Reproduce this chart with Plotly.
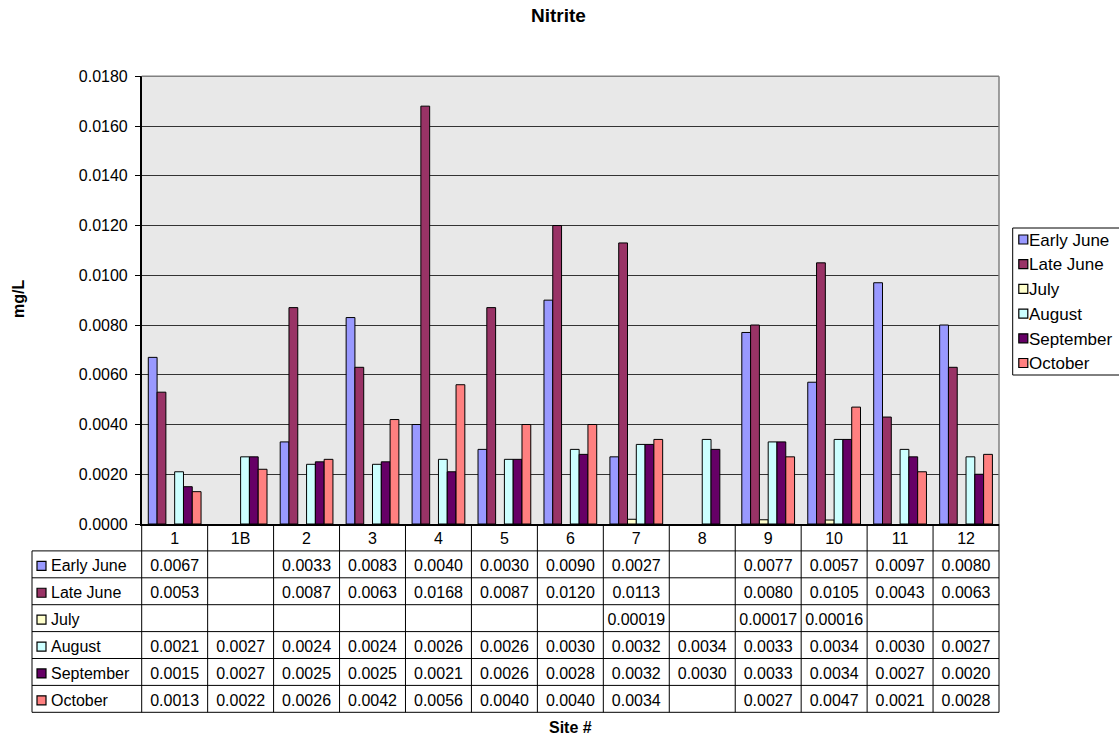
import plotly.graph_objects as go

# ---------------- data ----------------
sites = ["1", "1B", "2", "3", "4", "5", "6", "7", "8", "9", "10", "11", "12"]
series_names = ["Early June", "Late June", "July", "August", "September", "October"]
early_june = [0.0067, None, 0.0033, 0.0083, 0.0040, 0.0030, 0.0090, 0.0027, None, 0.0077, 0.0057, 0.0097, 0.0080]
late_june = [0.0053, None, 0.0087, 0.0063, 0.0168, 0.0087, 0.0120, 0.0113, None, 0.0080, 0.0105, 0.0043, 0.0063]
july = [None, None, None, None, None, None, None, 0.00019, None, 0.00017, 0.00016, None, None]
august = [0.0021, 0.0027, 0.0024, 0.0024, 0.0026, 0.0026, 0.0030, 0.0032, 0.0034, 0.0033, 0.0034, 0.0030, 0.0027]
september = [0.0015, 0.0027, 0.0025, 0.0025, 0.0021, 0.0026, 0.0028, 0.0032, 0.0030, 0.0033, 0.0034, 0.0027, 0.0020]
october = [0.0013, 0.0022, 0.0026, 0.0042, 0.0056, 0.0040, 0.0040, 0.0034, None, 0.0027, 0.0047, 0.0021, 0.0028]
series_values = [early_june, late_june, july, august, september, october]
colors = ["#9999FF", "#993366", "#FFFFCC", "#CCFFFF", "#660066", "#FF8080"]

# ---------------- layout geometry (pixels) ----------------
W, H = 1119, 738
FONT = "Liberation Sans, Arial, sans-serif"
PL, PR, PT, PB = 141.7, 999.0, 76.3, 524.0       # plot area
TL, TB = 32.0, 712.3                             # table left / bottom
unit_x = (PR - PL) / len(sites)
L = (PL - TL) / unit_x                           # label column width in category units
n_rows = len(series_names) + 1
unit_y = (TB - PB) / n_rows
TEXT_DY = 3.0 / unit_y                           # nudge text to optical row centre


def fx(p):
    return p / W


def fy(p):
    return 1 - p / H


fig = go.Figure()

# bars
for name, vals, col in zip(series_names, series_values, colors):
    fig.add_trace(go.Bar(
        x=sites, y=vals, name=name, marker=dict(color=col, line=dict(color="black", width=1)),
        showlegend=False, xaxis="x", yaxis="y", hoverinfo="x+y+name"))

# ---------------- data table (subplot x2/y2) ----------------
tx_left = -0.5 - L
pad_px = 3
x2_range = [tx_left - pad_px / unit_x, len(sites) - 0.5 + pad_px / unit_x]
y2_range = [n_rows + pad_px / unit_y, -pad_px / unit_y]

# header row (site labels)
fig.add_trace(go.Scatter(
    x=list(range(len(sites))), y=[0.5 + TEXT_DY] * len(sites), text=sites, mode="text",
    textposition="middle center", textfont=dict(family=FONT, size=16, color="black"),
    xaxis="x2", yaxis="y2", showlegend=False, hoverinfo="skip"))


def fmt(v):
    if v is None:
        return ""
    return f"{v:.5f}" if v < 0.001 else f"{v:.4f}"


for i, (name, vals, col) in enumerate(zip(series_names, series_values, colors)):
    row_y = i + 1.5
    xs = [j for j, v in enumerate(vals) if v is not None]
    fig.add_trace(go.Scatter(
        x=xs, y=[row_y + TEXT_DY] * len(xs), text=[fmt(vals[j]) for j in xs], mode="text",
        textposition="middle center", textfont=dict(family=FONT, size=16, color="black"),
        xaxis="x2", yaxis="y2", showlegend=False, hoverinfo="skip"))
    # key square and label in first column
    fig.add_trace(go.Scatter(
        x=[tx_left + 9.5 / unit_x], y=[row_y + 1.5 / unit_y], mode="markers",
        marker=dict(symbol="square", size=9, color=col, line=dict(color="black", width=1.2)),
        xaxis="x2", yaxis="y2", showlegend=False, hoverinfo="skip"))
    fig.add_trace(go.Scatter(
        x=[tx_left + 19.0 / unit_x], y=[row_y + TEXT_DY], text=[name], mode="text",
        textposition="middle right", textfont=dict(family=FONT, size=16, color="black"),
        xaxis="x2", yaxis="y2", showlegend=False, hoverinfo="skip"))

shapes = []
# gray plot-area background (below gridlines)
shapes.append(dict(type="rect", xref="x domain", yref="y domain", x0=0, x1=1, y0=0, y1=1,
                   fillcolor="#E8E8E8", line=dict(width=0), layer="below"))
# table horizontal lines
for r in range(1, n_rows + 1):
    shapes.append(dict(type="line", xref="x2", yref="y2", x0=tx_left, x1=len(sites) - 0.5,
                       y0=r, y1=r, line=dict(color="black", width=1)))
# table vertical lines
for k in range(len(sites) + 1):
    shapes.append(dict(type="line", xref="x2", yref="y2", x0=k - 0.5, x1=k - 0.5,
                       y0=0, y1=n_rows, line=dict(color="black", width=1)))
shapes.append(dict(type="line", xref="x2", yref="y2", x0=tx_left, x1=tx_left,
                   y0=1, y1=n_rows, line=dict(color="black", width=1)))

# plot area gray border (top and right)
shapes.append(dict(type="line", xref="x domain", yref="y domain", x0=0, x1=1, y0=1, y1=1,
                   line=dict(color="#808080", width=1.5)))
shapes.append(dict(type="line", xref="x domain", yref="y domain", x0=1, x1=1, y0=0, y1=1,
                   line=dict(color="#808080", width=1.5)))

# ---------------- manual legend (subplot x3/y3) ----------------
LG_L, LG_T, LG_B = 1012.7, 228.0, 375.0
lg_first, lg_step = 239.5, 24.7
y3_range = [(LG_B - lg_first) / lg_step, (LG_T - lg_first) / lg_step]
lg_text_dy = 2.0 / lg_step
fig.add_trace(go.Scatter(
    x=[10.6] * len(series_names), y=list(range(len(series_names))), mode="markers",
    marker=dict(symbol="square", size=9, color=colors, line=dict(color="black", width=1.2)),
    xaxis="x3", yaxis="y3", showlegend=False, hoverinfo="skip", cliponaxis=False))
fig.add_trace(go.Scatter(
    x=[16.3] * len(series_names), y=[k + lg_text_dy for k in range(len(series_names))],
    text=series_names, mode="text", textposition="middle right",
    textfont=dict(family=FONT, size=17, color="black"),
    xaxis="x3", yaxis="y3", showlegend=False, hoverinfo="skip", cliponaxis=False))
shapes.append(dict(type="rect", xref="paper", yref="paper", x0=fx(LG_L), x1=1.02,
                   y0=fy(LG_B), y1=fy(LG_T), line=dict(color="black", width=1)))

annotations = [
    dict(text="<b>Nitrite</b>", x=fx(558.5), y=fy(15.5), xref="paper", yref="paper",
         showarrow=False, xanchor="center", yanchor="middle",
         font=dict(family=FONT, size=19, color="black")),
    dict(text="<b>mg/L</b>", x=fx(18), y=fy(299), xref="paper", yref="paper",
         showarrow=False, xanchor="center", yanchor="middle", textangle=-90,
         font=dict(family=FONT, size=16, color="black")),
    dict(text="<b>Site #</b>", x=fx(570.5), y=fy(727), xref="paper", yref="paper",
         showarrow=False, xanchor="center", yanchor="middle",
         font=dict(family=FONT, size=16, color="black")),
]

fig.update_layout(
    width=W, height=H,
    margin=dict(l=0, r=0, t=0, b=0, autoexpand=False),
    paper_bgcolor="white", plot_bgcolor="rgba(0,0,0,0)",
    barmode="group", bargap=0.2, bargroupgap=0.0,
    font=dict(family=FONT, size=16, color="black"),
    showlegend=False,
    xaxis=dict(domain=[fx(PL), fx(PR)], anchor="y", type="category",
               categoryorder="array", categoryarray=sites, range=[-0.5, len(sites) - 0.5],
               showticklabels=False, ticks="", showline=True, linecolor="black", linewidth=1.5,
               showgrid=False, zeroline=False),
    yaxis=dict(domain=[fy(PB), fy(PT)], anchor="x", range=[0, 0.018], dtick=0.002,
               tickformat=".4f", ticks="outside", ticklen=5, tickcolor="black", tickwidth=1,
               ticklabelstandoff=4,
               showline=True, linecolor="black", linewidth=1.5, showgrid=True,
               gridcolor="#333333", gridwidth=1, zeroline=False,
               tickfont=dict(family=FONT, size=16, color="black")),
    xaxis2=dict(domain=[fx(TL - pad_px), fx(PR + pad_px)], anchor="y2", range=x2_range,
                visible=False, fixedrange=True),
    yaxis2=dict(domain=[fy(TB + pad_px), fy(PB - pad_px)], anchor="x2", range=y2_range,
                visible=False, fixedrange=True),
    xaxis3=dict(domain=[fx(LG_L), 1.0], anchor="y3", range=[0, W - LG_L],
                visible=False, fixedrange=True),
    yaxis3=dict(domain=[fy(LG_B), fy(LG_T)], anchor="x3", range=y3_range,
                visible=False, fixedrange=True),
    shapes=shapes,
    annotations=annotations,
)

fig.write_html("out.html", config={"displayModeBar": False},
               post_script="document.body.style.margin='0px';")
